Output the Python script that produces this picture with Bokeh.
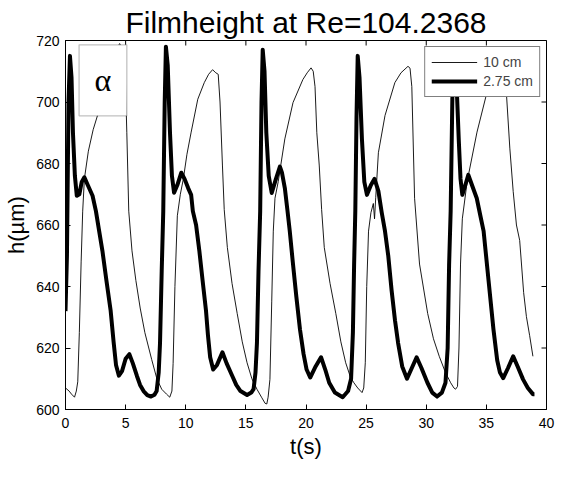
import math
from bokeh.plotting import figure
from bokeh.models import (BoxAnnotation, Label, Legend, LegendItem, FixedTicker, Range1d)
from bokeh.embed import file_html
from bokeh.resources import INLINE

# ---- data ----
# 10 cm probe (thin line)
t_10 = [0.0, 0.3, 0.5, 0.75, 0.9, 1.02, 1.15, 1.3, 1.43, 1.57, 1.9, 2.3, 2.66, 3.1, 3.6, 4.1, 4.5,
        4.8, 4.95, 5.1, 5.26, 5.53, 5.85, 6.21, 6.6, 7.17, 7.6, 8.0, 8.4, 8.67, 8.85, 8.95, 9.1,
        9.3, 9.55, 9.8, 10.1, 10.45, 11.0, 11.54, 11.9, 12.23, 12.5, 12.7, 12.85, 13.05, 13.2,
        13.46, 13.85, 14.28, 14.7, 15.1, 15.5, 15.92, 16.3, 16.6, 16.74, 16.85, 17.0, 17.15,
        17.28, 17.42, 17.69, 18.24, 18.92, 19.74, 20.1, 20.42, 20.6, 20.75, 20.9, 21.1, 21.3,
        21.52, 22.0, 22.48, 22.9, 23.3, 23.7, 23.98, 24.3, 24.66, 24.8, 24.93, 25.05, 25.2,
        25.4, 25.6, 25.7, 25.8, 26.02, 26.57, 27.39, 27.9, 28.48, 28.65, 28.8, 29.03, 29.44,
        30.12, 30.6, 31.08, 31.6, 32.03, 32.3, 32.44, 32.6, 32.72, 32.85, 33.0, 33.4, 34.22,
        35.04, 35.6, 36.2, 36.5, 36.68, 36.95, 37.23, 37.5, 37.77, 38.1, 38.33, 38.6, 38.87]
h_10 = [607, 606, 605, 604, 606, 609, 625, 648, 664.5, 675, 684, 691, 695.6, 703, 710, 716, 719,
        717, 712, 690, 664.5, 651.6, 642, 633, 625, 616.2, 610, 606.6, 605, 604, 606, 615, 640,
        663, 670, 675, 683, 690.2, 700.9, 706.3, 709, 710.5, 709.5, 709, 700, 679.5, 665,
        652.7, 641, 631.2, 622, 615.2, 610, 606.6, 604, 602, 601.8, 604, 609.8, 635,
        658, 668.7, 674.1, 688, 699.8, 707.3, 709.5, 711.1, 710, 705, 690, 679.5, 665,
        652.7, 641, 631.2, 622, 615.2, 610.5, 608.7, 607, 605.5, 607, 615.2, 640, 658,
        664, 667, 662, 669, 683.5, 695.6, 706.3, 709.5, 711.6, 711, 705, 668.7, 647.3,
        631.2, 623, 617.3, 612, 608.7, 607, 606.6, 607.5, 620, 647.3, 662, 674.1, 690.2,
        703, 708, 711, 710, 702, 685, 670.9, 660, 655, 638, 630.2, 624, 617.3]

# 2.75 cm probe (thick line)
t_275 = [0.0, 0.12, 0.25, 0.37, 0.5, 0.62, 0.78, 0.94, 1.15, 1.35, 1.57, 1.85, 2.25, 2.53, 2.8,
         3.07, 3.4, 3.75, 4.0, 4.2, 4.44, 4.7, 5.0, 5.31, 5.6, 5.94, 6.2, 6.49, 6.8, 7.11, 7.4,
         7.58, 7.75, 7.86, 8.0, 8.13, 8.25, 8.35, 8.5, 8.69, 8.85, 9.03, 9.3, 9.63, 9.9, 10.2,
         10.45, 10.59, 10.86, 11.13, 11.4, 11.68, 11.85, 12.03, 12.28, 12.6, 13.05, 13.4, 13.87,
         14.2, 14.55, 15.1, 15.45, 15.64, 15.8, 15.92, 16.05, 16.19, 16.3, 16.4, 16.55, 16.7,
         16.9, 17.15, 17.5, 17.83, 18.0, 18.24, 18.45, 18.65, 18.9, 19.2, 19.5, 19.8, 20.05,
         20.35, 20.8, 21.25, 21.6, 21.93, 22.4, 23.05, 23.5, 23.75, 23.9, 24.0, 24.1, 24.2,
         24.3, 24.45, 24.65, 24.85, 25.07, 25.4, 25.7, 26.02, 26.3, 26.57, 26.84, 27.12, 27.4,
         27.66, 28.0, 28.4, 28.8, 29.2, 29.6, 30.1, 30.5, 30.9, 31.3, 31.6, 31.78, 31.9, 32.03,
         32.17, 32.35, 32.5, 32.7, 32.85, 33.0, 33.25, 33.5, 33.8, 34.2, 34.5, 34.77, 35.18,
         35.59, 35.9, 36.13, 36.4, 36.8, 37.23, 37.6, 38.05, 38.45, 38.87, 39.0]
h_275 = [632, 650, 700, 715, 708, 690, 676, 669.5, 670, 674, 675.5, 673, 669.5, 664.5, 658,
         651.6, 642, 632.3, 622, 614.5, 611, 612.5, 616.5, 618, 615, 610.9, 608, 606, 604.7,
         604.2, 604.8, 606, 612, 621.6, 645, 664.5, 700, 718, 712, 690, 676, 670.5, 673, 677,
         675, 672, 669.8, 664.5, 660, 651.6, 642, 632.3, 624, 617, 613, 614.5, 618.6, 615,
         610.9, 608, 606, 604.7, 605.5, 606.6, 612, 621.6, 645, 664.5, 700, 717, 710, 690,
         676, 670.4, 675, 679, 677, 672, 665, 658, 648, 636.6, 626, 618, 613, 610.4, 614,
         617, 613, 608.7, 605.5, 604, 606, 610, 625, 647, 664.5, 695, 715, 708, 688, 674,
         669.8, 673, 675, 671, 664, 658, 650, 638.7, 629, 621.6, 614, 610, 613.5, 617, 613.5,
         608.7, 605.5, 604.2, 605.5, 608.7, 620, 647, 664.5, 701, 715, 708, 688, 675, 669.8,
         673, 676.3, 673, 668.7, 663, 658, 642, 626, 616, 612, 610.2, 613.5, 617.3, 614,
         609.8, 607, 605, 605]

x_ticks = [0, 5, 10, 15, 20, 25, 30, 35, 40]
y_ticks = [600, 620, 640, 660, 680, 700, 720]
x_min, x_max = 0, 40
y_min, y_max = 600, 720
series_labels = ["10 cm", "2.75 cm"]
title_text = "Filmheight at Re=104.2368"
panel_label = "\u03b1"

FONT = "Liberation Sans"

p = figure(width=555, height=461, x_range=Range1d(x_min, x_max), y_range=Range1d(y_min, y_max),
           output_backend="svg", toolbar_location=None,
           min_border_left=65, min_border_right=9, min_border_top=40, min_border_bottom=52,
           background_fill_color="white", border_fill_color="white")

p.title.text = title_text
p.title.text_font = FONT
p.title.text_font_size = "30px"
p.title.text_font_style = "normal"
p.title.align = "center"
p.title.standoff = 4
p.title.text_color = "black"

p.xgrid.visible = False
p.ygrid.visible = False
p.outline_line_color = "black"
p.outline_line_width = 1
p.outline_line_alpha = 1

def style_axis(ax, ticks):
    ax.ticker = FixedTicker(ticks=ticks)
    ax.major_tick_in = 5
    ax.major_tick_out = 0
    ax.minor_tick_line_color = None
    ax.axis_line_color = "black"
    ax.major_tick_line_color = "black"
    ax.major_label_text_font = FONT
    ax.major_label_text_font_size = "14px"
    ax.major_label_text_color = "black"

xa = p.xaxis[0]
style_axis(xa, x_ticks)
xa.major_label_standoff = 8
xa.axis_label = "t(s)"
xa.axis_label_text_font = FONT
xa.axis_label_text_font_size = "22px"
xa.axis_label_text_font_style = "normal"
xa.axis_label_text_color = "black"
xa.axis_label_standoff = 3

ya = p.yaxis[0]
style_axis(ya, y_ticks)
ya.major_label_standoff = 6
ya.axis_label = "h(\u00b5m)"
ya.axis_label_text_font = FONT
ya.axis_label_text_font_size = "22px"
ya.axis_label_text_font_style = "normal"
ya.axis_label_text_color = "black"
ya.axis_label_standoff = 4

# inward tick marks on the top and right edges (half of each dash is clipped by the frame)
p.scatter(x=x_ticks, y=[y_max] * len(x_ticks), marker="dash", size=10, angle=math.pi / 2,
          line_color="black", line_width=1)
p.scatter(x=[x_max] * len(y_ticks), y=y_ticks, marker="dash", size=10,
          line_color="black", line_width=1)

r10 = p.line(t_10, h_10, line_color="black", line_width=0.9)
r275 = p.line(t_275, h_275, line_color="black", line_width=4, line_join="round")

legend = Legend(items=[LegendItem(label=series_labels[0], renderers=[r10]),
                       LegendItem(label=series_labels[1], renderers=[r275])],
                location="top_right", margin=6, padding=6, spacing=1,
                glyph_width=46, glyph_height=18, label_height=18, label_standoff=6,
                label_text_font=FONT, label_text_font_size="14px",
                border_line_color="black", border_line_width=1,
                background_fill_color="white", background_fill_alpha=1)
p.add_layout(legend)

box = BoxAnnotation(left=1.13, right=5.1, bottom=695.5, top=718.6,
                    fill_color="white", fill_alpha=1, line_color="#333333", line_width=1.3)
p.add_layout(box)
p.add_layout(Label(x=3.1, y=707, text=panel_label, text_align="center",
                   text_baseline="middle", text_font="Liberation Serif",
                   text_font_size="32px", text_color="black"))

open("out.html", "w").write(file_html(p, INLINE))
